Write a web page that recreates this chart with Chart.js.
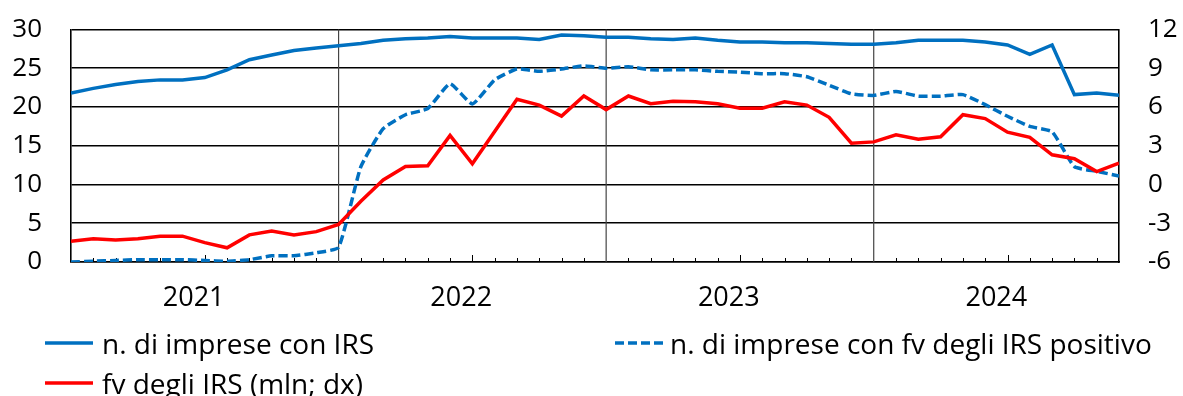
<!DOCTYPE html>
<html>
<head>
<meta charset="utf-8">
<script src="https://cdn.jsdelivr.net/npm/chart.js@4.4.1/dist/chart.umd.min.js"></script>
<style>
  html, body { margin: 0; padding: 0; background: #fff; }
  #wrap { position: relative; width: 1183px; height: 396px; overflow: hidden; }
  #c { position: absolute; left: 0; top: 0; }
  .item { position: absolute; white-space: nowrap; font-family: "Open Sans", sans-serif; font-size: 28px; line-height: 34px; color: #000; }
  .item svg { position: absolute; top: 0; }
  .item span { position: absolute; top: 0; }
</style>
</head>
<body>
<div id="wrap">
  <canvas id="c" width="1183" height="396"></canvas>
  <div id="legend"></div>
</div>
<script>
// Monthly observations, January 2021 – December 2024
const yearLabels = ['2021', '2022', '2023', '2024'];

// n. di imprese con IRS (left axis)
const impreseIRS = [
  21.8, 22.4, 22.9, 23.3, 23.5, 23.5, 23.8, 24.8, 26.1, 26.7, 27.3, 27.6,
  27.9, 28.2, 28.6, 28.8, 28.9, 29.1, 28.9, 28.9, 28.9, 28.7, 29.3, 29.2,
  29.0, 29.0, 28.8, 28.7, 28.9, 28.6, 28.4, 28.4, 28.3, 28.3, 28.2, 28.1,
  28.1, 28.3, 28.6, 28.6, 28.6, 28.4, 28.0, 26.8, 28.0, 21.6, 21.8, 21.5
];

// n. di imprese con fv degli IRS positivo (left axis)
const impresePositivo = [
  0.0, 0.1, 0.2, 0.3, 0.3, 0.3, 0.2, 0.1, 0.3, 0.8, 0.8, 1.2,
  1.9, 12.3, 17.2, 19.0, 19.8, 23.0, 20.4, 23.5, 24.9, 24.6, 24.9, 25.3,
  25.0, 25.2, 24.8, 24.8, 24.8, 24.6, 24.5, 24.3, 24.3, 23.9, 22.8, 21.7,
  21.5, 22.0, 21.4, 21.4, 21.6, 20.3, 18.8, 17.5, 16.8, 12.3, 11.7, 11.1
];

// fv degli IRS, milioni (right axis)
const fvIRS = [
  -4.4, -4.2, -4.3, -4.2, -4.0, -4.0, -4.5, -4.9, -3.9, -3.6, -3.9, -3.65,
  -3.1, -1.3, 0.35, 1.4, 1.45, 3.8, 1.6, 4.1, 6.6, 6.15, 5.3, 6.85,
  5.8, 6.85, 6.25, 6.45, 6.4, 6.25, 5.9, 5.9, 6.4, 6.15, 5.2, 3.2,
  3.3, 3.85, 3.5, 3.7, 5.4, 5.1, 4.05, 3.65, 2.3, 2.0, 1.0, 1.65
];

const leftTicks = { min: 0, max: 30, step: 5 };
const rightTicks = { min: -6, max: 12, step: 3 };

const seriesNames = [
  'n. di imprese con IRS',
  'n. di imprese con fv degli IRS positivo',
  'fv degli IRS (mln; dx)'
];

const BLUE = '#0070C0';
const RED = '#FF0000';
const FONT = '"Open Sans", sans-serif';
const nMonths = impreseIRS.length;

const asPoints = arr => arr.map((v, i) => ({ x: i, y: v }));

// Fixed axis width; keep the label gap from pushing the plot area down
const fitVertical = width => axis => {
  axis.width = width;
  axis.paddingTop = 12;
  axis.paddingBottom = 12;
};

// Year separators and monthly tick marks along the bottom axis
const axisMarks = {
  id: 'axisMarks',
  beforeDatasetsDraw(chart) {
    const { ctx, chartArea: a, scales: { x } } = chart;
    ctx.save();
    ctx.strokeStyle = '#444';
    ctx.lineWidth = 1.2;
    for (let m = 12; m < nMonths; m += 12) {
      const px = x.getPixelForValue(m);
      ctx.beginPath();
      ctx.moveTo(px, a.top);
      ctx.lineTo(px, a.bottom);
      ctx.stroke();
    }
    ctx.strokeStyle = '#000';
    ctx.lineWidth = 1;
    for (let m = 1; m < nMonths - 1; m++) {
      if (m % 12 === 0) continue;
      const px = Math.round(x.getPixelForValue(m)) + 0.5;
      const len = (m % 12 === 6) ? 7 : 4;
      ctx.beginPath();
      ctx.moveTo(px, a.bottom);
      ctx.lineTo(px, a.bottom - len);
      ctx.stroke();
    }
    ctx.restore();
  }
};

new Chart(document.getElementById('c'), {
  type: 'line',
  data: {
    datasets: [
      {
        label: seriesNames[2],
        data: asPoints(fvIRS),
        yAxisID: 'y2',
        borderColor: RED,
        borderWidth: 3.5,
        pointRadius: 0,
        tension: 0,
        order: 0
      },
      {
        label: seriesNames[0],
        data: asPoints(impreseIRS),
        yAxisID: 'y',
        borderColor: BLUE,
        borderWidth: 3.5,
        pointRadius: 0,
        tension: 0,
        order: 1
      },
      {
        label: seriesNames[1],
        data: asPoints(impresePositivo),
        yAxisID: 'y',
        borderColor: BLUE,
        borderWidth: 3.5,
        borderDash: [9, 4],
        pointRadius: 0,
        tension: 0.15,
        order: 2
      }
    ]
  },
  options: {
    responsive: false,
    animation: false,
    events: [],
    layout: { padding: { top: 29.5, bottom: 74, left: 0, right: 0 } },
    plugins: { legend: { display: false }, tooltip: { enabled: false } },
    scales: {
      x: {
        type: 'linear',
        min: 0,
        max: nMonths - 1,
        afterBuildTicks: axis => {
          axis.ticks = yearLabels.map((_, k) => ({ value: k * 12 + 5.5 }));
        },
        afterFit: axis => { axis.height = 60; },
        ticks: {
          autoSkip: false,
          maxRotation: 0,
          padding: 20,
          color: '#000',
          font: { family: FONT, size: 27 },
          callback: v => yearLabels[Math.floor(v / 12)]
        },
        grid: { display: false, drawTicks: false },
        border: { display: true, color: '#000', width: 1.5 }
      },
      y: {
        position: 'left',
        min: leftTicks.min,
        max: leftTicks.max,
        afterFit: fitVertical(71),
        ticks: {
          stepSize: leftTicks.step,
          padding: 29,
          color: '#000',
          font: { family: FONT, size: 26 }
        },
        grid: { color: '#000', lineWidth: 1.6, drawTicks: false },
        border: { display: true, color: '#000', width: 1.6 }
      },
      y2: {
        position: 'right',
        min: rightTicks.min,
        max: rightTicks.max,
        afterFit: fitVertical(64),
        ticks: {
          stepSize: rightTicks.step,
          padding: 29,
          color: '#000',
          font: { family: FONT, size: 26 }
        },
        grid: { drawOnChartArea: false, drawTicks: false },
        border: { display: true, color: '#000', width: 1.6 }
      }
    }
  },
  plugins: [axisMarks]
});

// Legend laid out in two columns beneath the axis
const legendItems = [
  { name: seriesNames[0], color: BLUE, dash: null, left: 45, top: 326 },
  { name: seriesNames[1], color: BLUE, dash: '9 4', left: 615, top: 326 },
  { name: seriesNames[2], color: RED, dash: null, left: 45, top: 366 }
];
const legend = document.getElementById('legend');
legendItems.forEach(it => {
  const d = document.createElement('div');
  d.className = 'item';
  d.style.left = it.left + 'px';
  d.style.top = it.top + 'px';
  const dash = it.dash ? ` stroke-dasharray="${it.dash}"` : '';
  d.innerHTML = `<svg width="48" height="34"><line x1="0" y1="17" x2="48" y2="17" stroke="${it.color}" stroke-width="3.5"${dash}/></svg><span style="left:${it.dash ? 55 : 57}px"></span>`;
  d.querySelector('span').textContent = it.name;
  legend.appendChild(d);
});
</script>
</body>
</html>
